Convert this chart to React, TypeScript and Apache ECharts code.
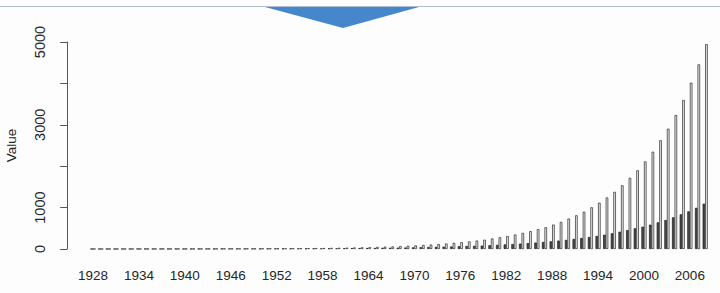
import React, { useEffect, useRef } from "react";
import * as echarts from "echarts";

const years: string[] = [
  "1928", "1929", "1930", "1931", "1932", "1933", "1934", "1935", "1936", "1937",
  "1938", "1939", "1940", "1941", "1942", "1943", "1944", "1945", "1946", "1947",
  "1948", "1949", "1950", "1951", "1952", "1953", "1954", "1955", "1956", "1957",
  "1958", "1959", "1960", "1961", "1962", "1963", "1964", "1965", "1966", "1967",
  "1968", "1969", "1970", "1971", "1972", "1973", "1974", "1975", "1976", "1977",
  "1978", "1979", "1980", "1981", "1982", "1983", "1984", "1985", "1986", "1987",
  "1988", "1989", "1990", "1991", "1992", "1993", "1994", "1995", "1996", "1997",
  "1998", "1999", "2000", "2001", "2002", "2003", "2004", "2005", "2006", "2007",
  "2008",
];

// dark bars (left of each pair)
const darkValues: number[] = [
  1.04, 1.13, 1.24, 1.35, 1.47, 1.6, 1.75, 1.9, 2.1, 2.3,
  2.5, 2.7, 2.9, 3.2, 3.5, 3.8, 4.2, 4.6, 5.0, 5.4,
  5.9, 6.4, 7.0, 7.7, 8.3, 9.1, 9.9, 10.8, 11.8, 12.8,
  14.0, 15.3, 16.6, 18.1, 19.8, 21.6, 23.5, 25.6, 28, 30,
  33, 36, 39, 43, 47, 51, 55, 60, 66, 72,
  78, 82, 91, 100, 110, 120, 130, 142, 155, 170,
  186, 203, 220, 242, 266, 290, 316, 345, 379, 418,
  456, 500, 539, 587, 645, 700, 766, 838, 910, 995,
  1095,
];

// light bars (right of each pair)
const lightValues: number[] = [
  1.0, 1.12, 1.25, 1.4, 1.5, 1.7, 1.9, 2.1, 2.4, 2.6,
  2.9, 3.2, 3.6, 4.0, 4.4, 4.9, 5.5, 6.1, 6.8, 7.5,
  8.4, 9.3, 10.4, 11.5, 12.8, 14.3, 15.9, 17.6, 19.6, 22,
  24, 27, 30, 33, 37, 41, 46, 51, 57, 63,
  70, 78, 87, 97, 108, 120, 133, 148, 165, 183,
  204, 225, 254, 282, 315, 350, 390, 432, 478, 526,
  590, 656, 735, 814, 901, 1007, 1118, 1245, 1380, 1539,
  1718, 1901, 2115, 2350, 2626, 2906, 3237, 3600, 4017, 4460,
  4950,
];

const yTickLabels: number[] = [0, 1000, 3000, 5000];

export default function App() {
  const ref = useRef<HTMLDivElement>(null);
  useEffect(() => {
    if (!ref.current) return;
    const chart = echarts.init(ref.current, undefined, { renderer: "svg" });
    const font = "'Liberation Sans', Arial, Helvetica, sans-serif";
    chart.setOption({
      animation: false,
      backgroundColor: "#fdfdfd",
      textStyle: { fontFamily: font },
      grid: {
        left: 89.2,
        right: 11,
        top: 42,
        bottom: 44,
        containLabel: false,
        outerBoundsMode: "none",
      },
      graphic: [
        {
          type: "line",
          shape: { x1: 0, y1: 6.5, x2: 720, y2: 6.5 },
          style: { stroke: "#aebdd0", lineWidth: 1.2 },
          silent: true,
        },
        {
          type: "polygon",
          shape: { points: [[265, 7], [419, 7], [343, 28]] },
          style: { fill: "#4686cb" },
          silent: true,
        },
      ],
      xAxis: {
        type: "category",
        data: years,
        axisLine: { show: false },
        axisTick: { show: false },
        splitLine: { show: false },
        axisLabel: {
          interval: 5,
          margin: 19,
          color: "#262626",
          fontSize: 13.5,
          fontFamily: font,
        },
      },
      yAxis: {
        type: "value",
        min: 0,
        max: 5000,
        interval: 1000,
        offset: 22,
        name: "Value",
        nameLocation: "middle",
        nameRotate: 90,
        nameGap: 49,
        nameTextStyle: { color: "#262626", fontSize: 13.5, fontFamily: font },
        axisLine: { show: true, lineStyle: { color: "#555", width: 1 } },
        axisTick: { show: true, length: 7, lineStyle: { color: "#555", width: 1 } },
        splitLine: { show: false },
        axisLabel: {
          rotate: 90,
          margin: 20,
          color: "#262626",
          fontSize: 14.5,
          fontFamily: font,
          formatter: (v: number) => (yTickLabels.includes(v) ? String(v) : ""),
        },
      },
      series: [
        {
          type: "bar",
          data: darkValues,
          barGap: "0%",
          barCategoryGap: "33.3%",
          itemStyle: { color: "#4d4d4d", borderColor: "#1a1a1a", borderWidth: 0.7 },
        },
        {
          type: "bar",
          data: lightValues,
          barGap: "0%",
          barCategoryGap: "33.3%",
          itemStyle: { color: "#e6e6e6", borderColor: "#2a2a2a", borderWidth: 0.7 },
        },
      ],
    });
    return () => chart.dispose();
  }, []);
  return (
    <div
      ref={ref}
      style={{ position: "absolute", left: 0, top: 0, width: 720, height: 293 }}
    />
  );
}
